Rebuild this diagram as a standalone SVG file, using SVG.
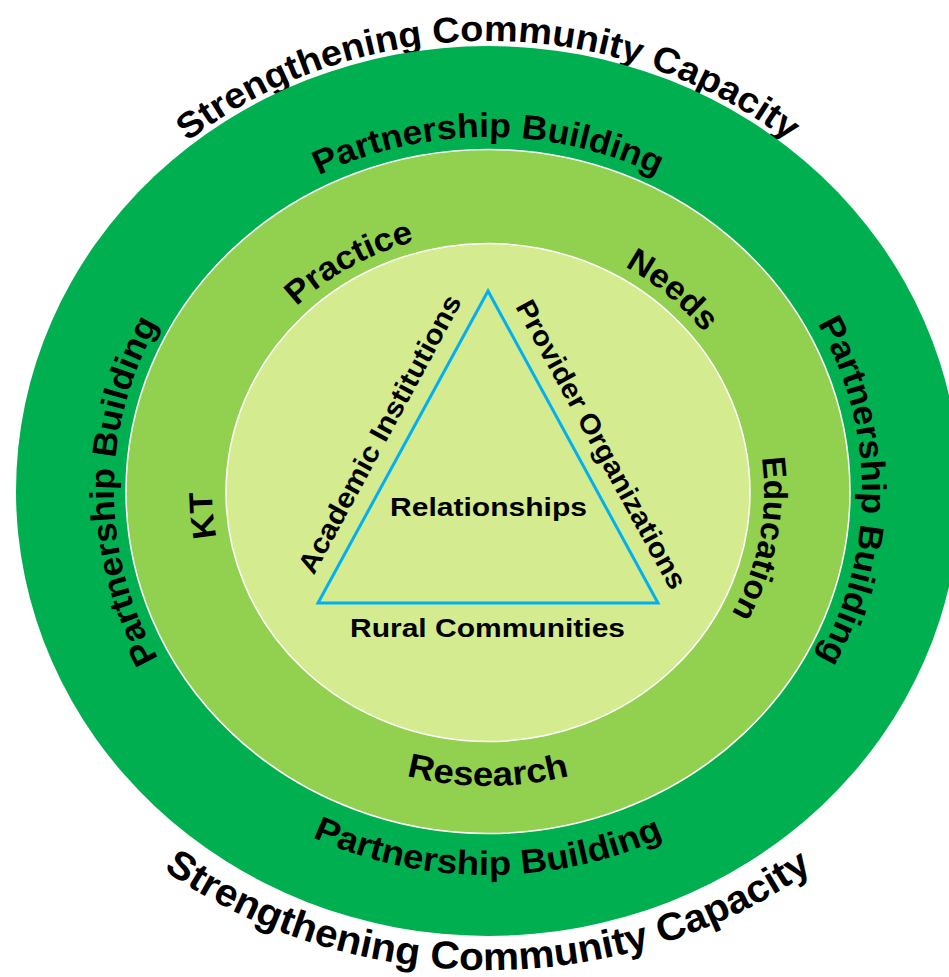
<svg xmlns="http://www.w3.org/2000/svg" width="949" height="977" viewBox="0 0 949 977">
  <defs>
    <style>
      .lbl { font-family: "Liberation Sans", Arial, sans-serif; font-weight: bold; fill: #000; }
      .ring-line { stroke: #ffffff; stroke-width: 1.5; }
    </style>
    <!-- baseline arcs, ellipses centred on (488,491) -->
    <path id="arc-scc-top" d="M 74.9 266 A 477 450 0 0 1 901.1 266"/>
    <path id="arc-scc-bottom" d="M 29 730.5 A 530 479 0 0 0 947 730.5"/>
    <path id="arc-pb-top" d="M 164.1 314 A 374 354 0 0 1 811.9 314"/>
    <path id="arc-pb-left" d="M 301 797.6 A 374 354 0 0 1 301 184.4"/>
    <path id="arc-pb-right" d="M 675 184.4 A 374 354 0 0 1 675 797.6"/>
    <path id="arc-pb-bottom" d="M 136.4 683 A 406 384 0 0 0 839.6 683"/>
    <path id="arc-practice" d="M 215 495.5 A 273 259 0 0 1 620.4 264.5"/>
    <path id="arc-needs" d="M 413.4 241.5 A 273 259 0 0 1 756.3 537.3"/>
    <path id="arc-education" d="M 665.4 291 A 276 261 0 0 1 582.4 736.3"/>
    <path id="arc-kt" d="M 371.4 727.5 A 276 261 0 0 1 329.7 277.2"/>
    <path id="arc-research" d="M 217.8 638.5 A 312 295 0 0 0 758.2 638.5"/>
  </defs>

  <rect width="949" height="977" fill="#ffffff"/>

  <!-- outer caption -->
  <g id="capacity">
    <text class="lbl" font-size="36" text-anchor="middle"><textPath href="#arc-scc-top" startOffset="50%" textLength="645" lengthAdjust="spacingAndGlyphs">Strengthening Community Capacity</textPath></text>
    <text class="lbl" font-size="39" text-anchor="middle"><textPath href="#arc-scc-bottom" startOffset="50%" textLength="690" lengthAdjust="spacingAndGlyphs">Strengthening Community Capacity</textPath></text>
  </g>

  <!-- partnership ring -->
  <g id="ring-partnership">
    <ellipse cx="488" cy="491" rx="472" ry="445" fill="#00AF50"/>
    <text class="lbl" font-size="34" text-anchor="middle"><textPath href="#arc-pb-top" startOffset="50%" textLength="350" lengthAdjust="spacingAndGlyphs">Partnership Building</textPath></text>
    <text class="lbl" font-size="34" text-anchor="middle"><textPath href="#arc-pb-left" startOffset="50%" textLength="350" lengthAdjust="spacingAndGlyphs">Partnership Building</textPath></text>
    <text class="lbl" font-size="34" text-anchor="middle"><textPath href="#arc-pb-right" startOffset="50%" textLength="350" lengthAdjust="spacingAndGlyphs">Partnership Building</textPath></text>
    <text class="lbl" font-size="34" text-anchor="middle"><textPath href="#arc-pb-bottom" startOffset="50%" textLength="362" lengthAdjust="spacingAndGlyphs">Partnership Building</textPath></text>
  </g>

  <!-- activities ring -->
  <g id="ring-activities">
    <ellipse class="ring-line" cx="488" cy="491.5" rx="362" ry="342" fill="#92D050"/>
    <text class="lbl" font-size="33" text-anchor="middle"><textPath href="#arc-practice" startOffset="50%" textLength="136" lengthAdjust="spacingAndGlyphs">Practice</textPath></text>
    <text class="lbl" font-size="33" text-anchor="middle"><textPath href="#arc-needs" startOffset="50%" textLength="104" lengthAdjust="spacingAndGlyphs">Needs</textPath></text>
    <text class="lbl" font-size="33" text-anchor="middle"><textPath href="#arc-education" startOffset="50%" textLength="162" lengthAdjust="spacingAndGlyphs">Education</textPath></text>
    <text class="lbl" font-size="33" text-anchor="middle"><textPath href="#arc-kt" startOffset="50%" textLength="46" lengthAdjust="spacingAndGlyphs">KT</textPath></text>
    <text class="lbl" font-size="34" text-anchor="middle"><textPath href="#arc-research" startOffset="50%" textLength="165" lengthAdjust="spacingAndGlyphs">Research</textPath></text>
  </g>

  <!-- relationships core -->
  <g id="ring-core">
    <ellipse class="ring-line" cx="488" cy="492.5" rx="262" ry="249" fill="#D4EB8F"/>
  </g>

  <g id="connectors">
    <polygon points="488,291 318,603 658,603" fill="none" stroke="#00B0F0" stroke-width="3" stroke-linejoin="miter"/>
  </g>

  <g id="academic">
    <text class="lbl" font-size="28" text-anchor="middle" textLength="312" lengthAdjust="spacingAndGlyphs" transform="translate(388 438.5) rotate(-61.56)">Academic Institutions</text>
  </g>
  <g id="providers">
    <text class="lbl" font-size="28" text-anchor="middle" textLength="325" lengthAdjust="spacingAndGlyphs" transform="translate(593 449) rotate(61.27)">Provider Organizations</text>
  </g>
  <g id="relationships">
    <text class="lbl" x="488.5" y="516" font-size="25" text-anchor="middle" textLength="197" lengthAdjust="spacingAndGlyphs">Relationships</text>
  </g>
  <g id="rural">
    <text class="lbl" x="487.5" y="637" font-size="25" text-anchor="middle" textLength="275" lengthAdjust="spacingAndGlyphs">Rural Communities</text>
  </g>
</svg>
